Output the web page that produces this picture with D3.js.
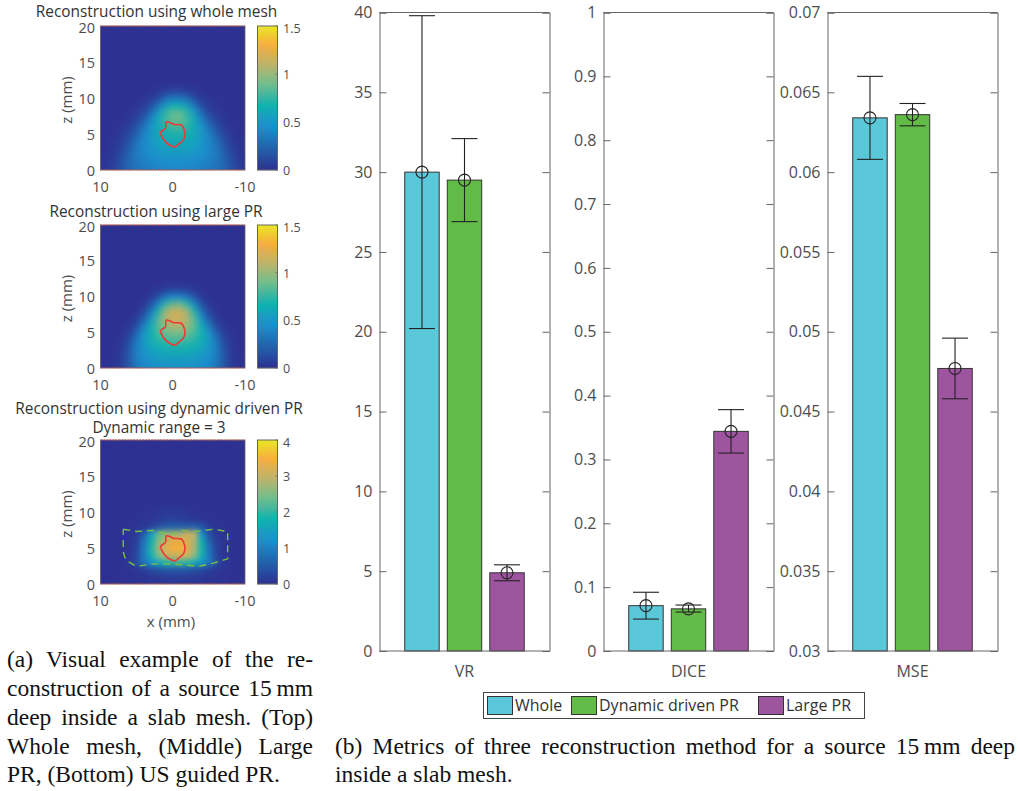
<!DOCTYPE html>
<html><head><meta charset="utf-8">
<script src="https://cdnjs.cloudflare.com/ajax/libs/d3/7.8.5/d3.min.js"></script>
<style>html,body{margin:0;padding:0;background:#fff}svg{display:block}</style></head>
<body><svg id="c" width="1020" height="791"></svg>
<script>
const seriesNames = ["Whole","Dynamic driven PR","Large PR"];
const seriesColors = ["#5BC8DA","#62BB46","#9E559F"];
const metricNames = ["VR","DICE","MSE"];
const vrValues = [30,29.5,4.9];
const vrLow = [20.2,26.9,4.4];
const vrHigh = [39.8,32.1,5.4];
const diceValues = [0.071,0.066,0.344];
const diceLow = [0.05,0.061,0.31];
const diceHigh = [0.092,0.072,0.378];
const mseValues = [0.0634,0.0636,0.0477];
const mseLow = [0.0608,0.0629,0.0458];
const mseHigh = [0.066,0.0643,0.0496];
const vrTicks = [0,5,10,15,20,25,30,35,40];
const diceTicks = [0,0.1,0.2,0.3,0.4,0.5,0.6,0.7,0.8,0.9,1];
const mseTicks = [0.03,0.035,0.04,0.045,0.05,0.055,0.06,0.065,0.07];
const parulaStops = [0,0.14,0.3,0.45,0.6,0.72,0.87,1];
const parulaColors = ["#2E3192","#235FA9","#1C8FCF","#11B2B0","#72BE8C","#B7B56E","#F7AE3E","#EBE62A"];
const xColumns = [10,9,8,7,6,5,4,3,2,1,0,-1,-2,-3,-4,-5,-6,-7,-8,-9,-10];
const wholeMesh = [
[.02,.04,.09,.18,.26,.31,.35,.37,.39,.40,.41,.41,.40,.39,.37,.35,.31,.26,.17,.08,.03],
[.01,.03,.08,.17,.27,.33,.38,.41,.43,.45,.46,.46,.45,.43,.41,.38,.33,.26,.16,.07,.02],
[.01,.02,.06,.14,.26,.35,.41,.45,.48,.50,.51,.51,.50,.48,.45,.41,.34,.25,.13,.05,.01],
[0,.01,.04,.10,.22,.34,.43,.49,.53,.56,.57,.57,.56,.53,.49,.42,.33,.21,.09,.03,.01],
[0,.01,.03,.07,.17,.31,.43,.51,.57,.61,.63,.63,.61,.57,.51,.42,.30,.16,.06,.02,0],
[0,0,.02,.05,.12,.25,.40,.52,.61,.67,.70,.70,.67,.61,.52,.39,.24,.11,.04,.01,0],
[0,0,.01,.03,.07,.17,.33,.50,.63,.73,.79,.79,.73,.63,.49,.32,.16,.06,.02,.01,0],
[0,0,0,.01,.04,.10,.22,.42,.62,.78,.88,.88,.78,.61,.40,.20,.09,.03,.01,0,0],
[0,0,0,0,.02,.05,.12,.28,.52,.74,.86,.86,.74,.52,.27,.11,.04,.02,0,0,0],
[0,0,0,0,.01,.02,.06,.14,.32,.54,.66,.66,.54,.32,.13,.05,.02,.01,0,0,0],
[0,0,0,0,0,.01,.02,.05,.13,.27,.35,.35,.27,.13,.05,.02,.01,0,0,0,0],
[0,0,0,0,0,0,0,.01,.03,.07,.10,.10,.07,.03,.01,0,0,0,0,0,0]];
const largeMesh = [
[0,.01,.03,.07,.18,.33,.41,.44,.46,.47,.48,.48,.47,.46,.44,.41,.32,.17,.06,.02,0],
[0,.01,.03,.07,.20,.36,.45,.49,.51,.53,.54,.54,.53,.51,.49,.45,.35,.19,.06,.02,0],
[0,0,.02,.06,.20,.38,.48,.54,.58,.60,.61,.61,.60,.58,.54,.48,.37,.19,.05,.01,0],
[0,0,.01,.05,.18,.38,.51,.60,.65,.68,.70,.70,.68,.65,.60,.51,.37,.17,.04,.01,0],
[0,0,.01,.03,.13,.34,.53,.65,.73,.78,.80,.80,.78,.73,.65,.52,.33,.12,.03,.01,0],
[0,0,0,.02,.07,.25,.50,.67,.80,.89,.93,.93,.89,.80,.67,.49,.24,.06,.02,0,0],
[0,0,0,.01,.03,.13,.38,.64,.85,1.00,1.07,1.07,1.00,.85,.63,.36,.12,.03,.01,0,0],
[0,0,0,0,.01,.06,.22,.50,.82,1.06,1.18,1.18,1.06,.82,.48,.20,.05,.01,0,0,0],
[0,0,0,0,0,.02,.10,.34,.70,1.02,1.16,1.16,1.02,.70,.32,.09,.02,0,0,0,0],
[0,0,0,0,0,0,.04,.15,.42,.74,.88,.88,.74,.42,.14,.03,0,0,0,0,0],
[0,0,0,0,0,0,.01,.05,.16,.34,.42,.42,.34,.16,.05,.01,0,0,0,0,0],
[0,0,0,0,0,0,0,.01,.03,.07,.09,.09,.07,.03,.01,0,0,0,0,0,0]];
const dynamicMesh = [
[0,0,0,0,.02,.03,.04,.05,.06,.08,.10,.10,.08,.06,.05,.04,.03,.02,0,0,0],
[0,0,0,0,.02,.03,.05,.08,.10,.12,.14,.14,.12,.10,.08,.05,.03,.02,0,0,0],
[0,0,0,.02,.03,.08,.16,.28,.38,.45,.48,.48,.45,.38,.30,.18,.08,.03,.02,0,0],
[0,0,0,.02,.08,.35,.85,1.25,1.55,1.85,2.00,2.05,1.95,1.65,1.30,.90,.40,.08,.02,0,0],
[0,0,0,.02,.06,.30,.95,1.75,2.45,2.95,3.10,3.15,3.05,2.55,1.80,.95,.30,.05,.02,0,0],
[0,0,0,.02,.05,.25,.95,1.90,2.70,3.25,3.50,3.55,3.30,2.75,1.85,.85,.22,.05,.02,0,0],
[0,0,0,.02,.04,.20,.85,1.80,2.55,3.05,3.40,3.45,3.20,2.80,1.80,.70,.18,.04,.02,0,0],
[0,0,0,.02,.04,.12,.55,1.45,2.30,2.65,2.75,2.75,3.10,2.90,1.30,.40,.10,.03,.02,0,0],
[0,0,0,0,.02,.04,.10,.20,.38,.55,.60,.60,.55,.62,.45,.15,.06,.02,0,0,0],
[0,0,0,0,.01,.03,.05,.08,.12,.18,.20,.18,.15,.10,.06,.03,.02,.01,0,0,0],
[0,0,0,0,0,.02,.03,.05,.08,.10,.10,.10,.08,.05,.03,.02,0,0,0,0,0],
[0,0,0,0,0,0,0,.02,.03,.04,.04,.04,.03,.02,0,0,0,0,0,0,0]];
const sourceContour = [[.85,6.7],[.4,6.6],[-.07,6.35],[-1.2,6.25],[-1.5,5.8],[-1.7,4.85],[-1.45,4.15],[-.75,3.55],[-.3,3.2],[.3,3.4],[1,3.9],[1.6,4.85],[1.7,5.2],[1,5.8],[.95,6.5]];
const regionContour = [[6.85,7.6],[5,7.3],[2.7,7.45],[.35,6.85],[-1.25,7.45],[-3.3,7.3],[-5.6,7.6],[-7.6,7.3],[-7.6,3.5],[-5.6,2.9],[-3.8,2.5],[-1.9,2.6],[.35,2.8],[2.7,2.8],[5,2.45],[6.5,3.3],[6.85,4.45],[6.85,7.6]];
const heatXTicks = [10,0,-10];
const heatZTicks = [0,5,10,15,20];
const captionA = ["(a) Visual example of the re-","construction of a source 15\u2009mm","deep inside a slab mesh. (Top)","Whole mesh, (Middle) Large","PR, (Bottom) US guided PR."];
const captionB = ["(b) Metrics of three reconstruction method for a source 15\u2009mm deep","inside a slab mesh."];

const FONT = "'Open Sans','Noto Sans',sans-serif";
const svg = d3.select("#c").style("font-family",FONT);
const GRAY="#4d4d4d", BOX="#666";
const parula = d3.scaleLinear().domain(parulaStops).range(parulaColors).clamp(true);
const defs = svg.append("defs");
[["blurA",3.2],["blurB",2.4]].forEach(([id,s])=>defs.append("filter").attr("id",id).attr("x","-10%").attr("y","-10%").attr("width","120%").attr("height","120%")
  .attr("color-interpolation-filters","sRGB")
  .append("feGaussianBlur").attr("stdDeviation",s));

const panels = [
 {titles:["Reconstruction using whole mesh"],titleX:156.5,titleY:[17],top:26,bottom:170,max:1.5,cticks:[0,.5,1,1.5],data:wholeMesh,blur:"blurA"},
 {titles:["Reconstruction using large PR"],titleX:156,titleY:[217],top:225,bottom:368,max:1.5,cticks:[0,.5,1,1.5],data:largeMesh,blur:"blurA"},
 {titles:["Reconstruction using dynamic driven PR","Dynamic range = 3"],titleX:159,titleY:[414,433],top:440,bottom:584,max:4,cticks:[0,1,2,3,4],data:dynamicMesh,region:true,xlabel:true,blur:"blurB"}
];
panels.forEach((p,pi)=>{
  const L=100.5,R=245, CL=257.5, CR=277.5;
  const x=d3.scaleLinear().domain([10,-10]).range([L,R]);
  const z=d3.scaleLinear().domain([0,20]).range([p.bottom,p.top]);
  const col=d3.scaleLinear().domain([0,p.max]).range([0,1]);
  const clipId="clip"+pi;
  defs.append("clipPath").attr("id",clipId).append("rect").attr("x",L).attr("y",p.top).attr("width",R-L).attr("height",p.bottom-p.top);
  const g=svg.append("g");
  p.titles.forEach((t,i)=>g.append("text").attr("x",p.titleX).attr("y",p.titleY[i]).attr("text-anchor","middle").attr("font-size",15.4).attr("fill","#333").text(t));
  const plot=g.append("g").attr("clip-path",`url(#${clipId})`);
  plot.append("rect").attr("x",L).attr("y",p.top).attr("width",R-L).attr("height",p.bottom-p.top).attr("fill",parula(0));
  const cells=plot.append("g").attr("filter",`url(#${p.blur})`);
  const cw=x(9)-x(10), ch=z(0)-z(1);
  cells.append("rect").attr("x",L-12).attr("y",p.top-12).attr("width",R-L+24).attr("height",p.bottom-p.top+24).attr("fill",parula(0));
  p.data.forEach((row,ri)=>row.forEach((v,ci)=>{
    const extra = ri===0?14:0;
    cells.append("rect").attr("x",x(xColumns[ci])-cw/2).attr("y",z(ri)-ch/2).attr("width",cw+.3).attr("height",ch+.3+extra).attr("fill",parula(col(v)));
  }));
  const ln=d3.line().x(d=>x(d[0])).y(d=>z(d[1]));
  if(p.region) plot.append("path").attr("d",ln(regionContour)).attr("fill","none").attr("stroke","#7AC143").attr("stroke-width",1.4).attr("stroke-dasharray","7 5");
  plot.append("path").attr("d",ln.curve(d3.curveCatmullRomClosed)(sourceContour)).attr("fill","none").attr("stroke","#EE3A36").attr("stroke-width",1.6);
  g.append("rect").attr("x",L).attr("y",p.top).attr("width",R-L).attr("height",p.bottom-p.top).attr("fill","none").attr("stroke",BOX).attr("stroke-width",.8);
  [0,20].forEach(v=>svg.append("line").attr("x1",L).attr("x2",R).attr("y1",z(v)).attr("y2",z(v)).attr("stroke","#E0564F").attr("stroke-width",1).attr("stroke-dasharray","1.5 1.5"));
  heatXTicks.forEach(t=>g.append("text").attr("x",x(t)).attr("y",p.bottom+21.5).attr("text-anchor","middle").attr("font-size",14.5).attr("fill",GRAY).text(t));
  heatZTicks.forEach(t=>g.append("text").attr("x",95).attr("y",z(t)+5.5+(t===20?1:0)).attr("text-anchor","end").attr("font-size",14.5).attr("fill",GRAY).text(t));
  g.append("text").attr("transform",`translate(72,${(p.top+p.bottom)/2+2}) rotate(-90)`).attr("text-anchor","middle").attr("font-size",15).attr("fill",GRAY).text("z (mm)");
  if(p.xlabel) g.append("text").attr("x",171).attr("y",627).attr("text-anchor","middle").attr("font-size",15).attr("fill",GRAY).text("x (mm)");
  const cb=d3.scaleLinear().domain([0,p.max]).range([p.bottom,p.top]);
  d3.range(p.bottom,p.top,-1).forEach(py=>g.append("rect").attr("x",CL).attr("y",py-1).attr("width",CR-CL).attr("height",1.2).attr("fill",parula(col(cb.invert(py-.5)))));
  g.append("rect").attr("x",CL).attr("y",p.top).attr("width",CR-CL).attr("height",p.bottom-p.top).attr("fill","none").attr("stroke",BOX).attr("stroke-width",1);
  p.cticks.forEach(t=>{
    g.append("line").attr("x1",CR-2).attr("x2",CR).attr("y1",cb(t)).attr("y2",cb(t)).attr("stroke",BOX).attr("stroke-width",.8);
    g.append("text").attr("x",283).attr("y",cb(t)+5+(t===p.max?2:0)).attr("font-size",12.5).attr("fill",GRAY).text(t);
  });
});

const barPanels=[
 {name:metricNames[0],left:379.5,domain:[0,40],ticks:vrTicks,vals:vrValues,lo:vrLow,hi:vrHigh},
 {name:metricNames[1],left:603.5,domain:[0,1],ticks:diceTicks,vals:diceValues,lo:diceLow,hi:diceHigh},
 {name:metricNames[2],left:827.5,domain:[.03,.07],ticks:mseTicks,vals:mseValues,lo:mseLow,hi:mseHigh}
];
const W=170,T=12.5,B=651;
barPanels.forEach(p=>{
  const g=svg.append("g").attr("transform",`translate(${p.left},0)`);
  const y=d3.scaleLinear().domain(p.domain).range([B,T]);
  const band=d3.scaleBand().domain(seriesNames).range([21,149]).paddingInner(.19).paddingOuter(.1);
  const ax=d3.axisLeft(y).tickValues(p.ticks).tickSize(-7).tickPadding(7).tickFormat(d=>String(+d.toFixed(4)));
  const a=g.append("g").call(ax);
  a.select(".domain").attr("stroke",BOX);
  a.selectAll(".tick line").attr("stroke",BOX);
  a.selectAll("text").attr("font-size",16).attr("fill",GRAY).attr("font-family",FONT);
  const ar=g.append("g").attr("transform",`translate(${W},0)`).call(d3.axisRight(y).tickValues(p.ticks).tickSize(-7).tickFormat(""));
  ar.select(".domain").attr("stroke",BOX);
  ar.selectAll(".tick line").attr("stroke",BOX);
  g.append("line").attr("x1",0).attr("x2",W).attr("y1",T).attr("y2",T).attr("stroke",BOX);
  seriesNames.forEach((s,i)=>{
    const cx=band(s)+band.bandwidth()/2;
    g.append("rect").attr("x",band(s)).attr("y",y(p.vals[i])).attr("width",band.bandwidth()).attr("height",B-y(p.vals[i])).attr("fill",seriesColors[i]).attr("stroke","#333").attr("stroke-width",1);
    const eb=g.append("g").attr("stroke","#222").attr("stroke-width",1.1).attr("fill","none");
    eb.append("line").attr("x1",cx).attr("x2",cx).attr("y1",y(p.hi[i])).attr("y2",y(p.lo[i]));
    [p.hi[i],p.lo[i]].forEach(v=>eb.append("line").attr("x1",cx-13).attr("x2",cx+13).attr("y1",y(v)).attr("y2",y(v)));
    eb.append("circle").attr("cx",cx).attr("cy",y(p.vals[i])).attr("r",6);
  });
  g.append("line").attr("x1",0).attr("x2",W).attr("y1",B).attr("y2",B).attr("stroke",BOX);
  g.append("text").attr("x",W/2).attr("y",677).attr("text-anchor","middle").attr("font-size",16).attr("fill",GRAY).text(p.name);
});

const leg=svg.append("g");
leg.append("rect").attr("x",483.5).attr("y",692.5).attr("width",381).attr("height",26).attr("fill","#fff").attr("stroke","#444").attr("stroke-width",1);
const legX=[487,571,758], legT=[515,599,786];
seriesNames.forEach((s,i)=>{
  leg.append("rect").attr("x",legX[i]+.5).attr("y",696.5).attr("width",25).attr("height",18).attr("fill",seriesColors[i]).attr("stroke","#333");
  leg.append("text").attr("x",legT[i]).attr("y",711).attr("font-size",16).attr("fill","#333").text(s);
});

function caption(lines,x,width,ys){
  lines.forEach((t,i)=>{
    const el=svg.append("text").attr("x",x).attr("y",ys[i]).attr("font-family","'Liberation Serif',serif").attr("font-size",23.5).attr("fill","#111").text(t);
    if(i<lines.length-1){
      const n=t.split(" ").length-1, w=el.node().getComputedTextLength();
      el.attr("word-spacing",(width-w)/n);
    }
  });
}
caption(captionA,7,306,[667,696,725,754,782]);
caption(captionB,335,680,[754,782]);
</script></body></html>
